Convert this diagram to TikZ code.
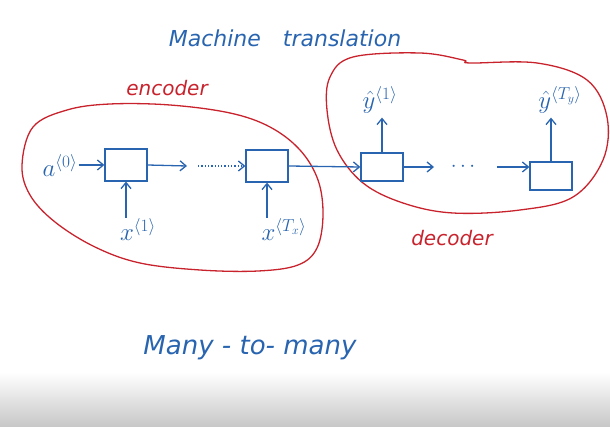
\documentclass[tikz,border=0pt]{standalone}
\usepackage{fontspec}
\setmainfont{DejaVu Sans}
\usetikzlibrary{arrows.meta}
\definecolor{ink}{RGB}{40,100,175}
\definecolor{redink}{RGB}{200,35,45}
\tikzset{
  cell/.style={draw=ink, line width=1.3pt, minimum width=42pt, minimum height=32pt, inner sep=0pt},
  lbl/.style={text=ink, font=\fontsize{25}{28}\selectfont, inner sep=1pt},
  conn/.style={draw=ink, line width=1.3pt, -{Straight Barb[length=6pt,width=10pt]}},
  blob/.style={draw=redink, line width=1.3pt},
  redlbl/.style={text=redink, font=\fontsize{20}{22}\selectfont\itshape},
  bluetxt/.style={text=ink, font=\fontsize{22}{24}\selectfont\itshape}
}
\begin{document}
\begin{tikzpicture}[x=1pt,y=-1pt]
\useasboundingbox (0,0) rectangle (610,427);
\shade[top color=white, bottom color=black!22] (0,372) rectangle (610,427);
% blobs
\draw[blob] plot[smooth cycle, tension=0.6] coordinates {(22,165) (33,127) (67,110) (110,104) (170,105) (230,113) (270,127) (300,150) (318,180) (323,215) (317,248) (298,265) (258,271) (200,270) (140,263) (95,247) (55,222) (30,195)};
\draw[blob] plot[smooth cycle, tension=0.6] coordinates {(330,77) (353,57) (420,53) (463,60) (470,63) (537,63) (587,80) (607,117) (603,160) (573,197) (520,210) (453,213) (403,203) (363,183) (337,150) (327,110)};
% texts
\node[bluetxt] (title) at (285,38) {Machine\quad translation};
\node[redlbl] (enc) at (167,88) {encoder};
\node[redlbl] (dec) at (452,238) {decoder};
\node[font=\fontsize{26}{28}\selectfont\itshape, text=ink] (many) at (250,348) {Many - to- many};
% encoder
\node[cell] (e1) at (126,165) {};
\node[cell] (e2) at (267,166) {};
\node[lbl] (a0) at (60,166) {$a^{\langle 0\rangle}$};
\node[lbl] (x1) at (138,230) {$x^{\langle 1\rangle}$};
\node[lbl] (xT) at (284,230) {$x^{\langle T_x\rangle}$};
\draw[conn] (a0.east |- e1.west) -- (e1.west);
\draw[conn] (x1.north -| e1) -- (e1.south);
\draw[conn] (xT.north -| e2) -- (e2.south);
\coordinate (d1) at (198,166);
\draw[conn] (e1.east) -- (d1 -| 187,0);
\draw[conn, dotted] (d1) -- (e2.west);
% decoder
\node[cell, minimum height=28pt] (c1) at (382,167) {};
\node[cell, minimum height=28pt] (c2) at (551,176) {};
\draw[conn] (e2.east) -- (c1.west);
\node[lbl] (y1) at (380,100) {$\hat y^{\langle 1\rangle}$};
\node[lbl] (yT) at (560,100) {$\hat y^{\langle T_y\rangle}$};
\draw[conn, shorten >=3pt] (c1.north) -- (y1.south -| c1);
\draw[conn, shorten >=3pt] (c2.north) -- (yT.south -| c2);
\node[text=ink, font=\fontsize{20}{22}\selectfont] (dots) at (463,167) {$\cdots$};
\draw[conn] (c1.east) -- (c1.east -| 434,0);
\draw[conn] (dots.east -| 497,0) -- (c2.west |- dots.east);
\end{tikzpicture}
\end{document}
